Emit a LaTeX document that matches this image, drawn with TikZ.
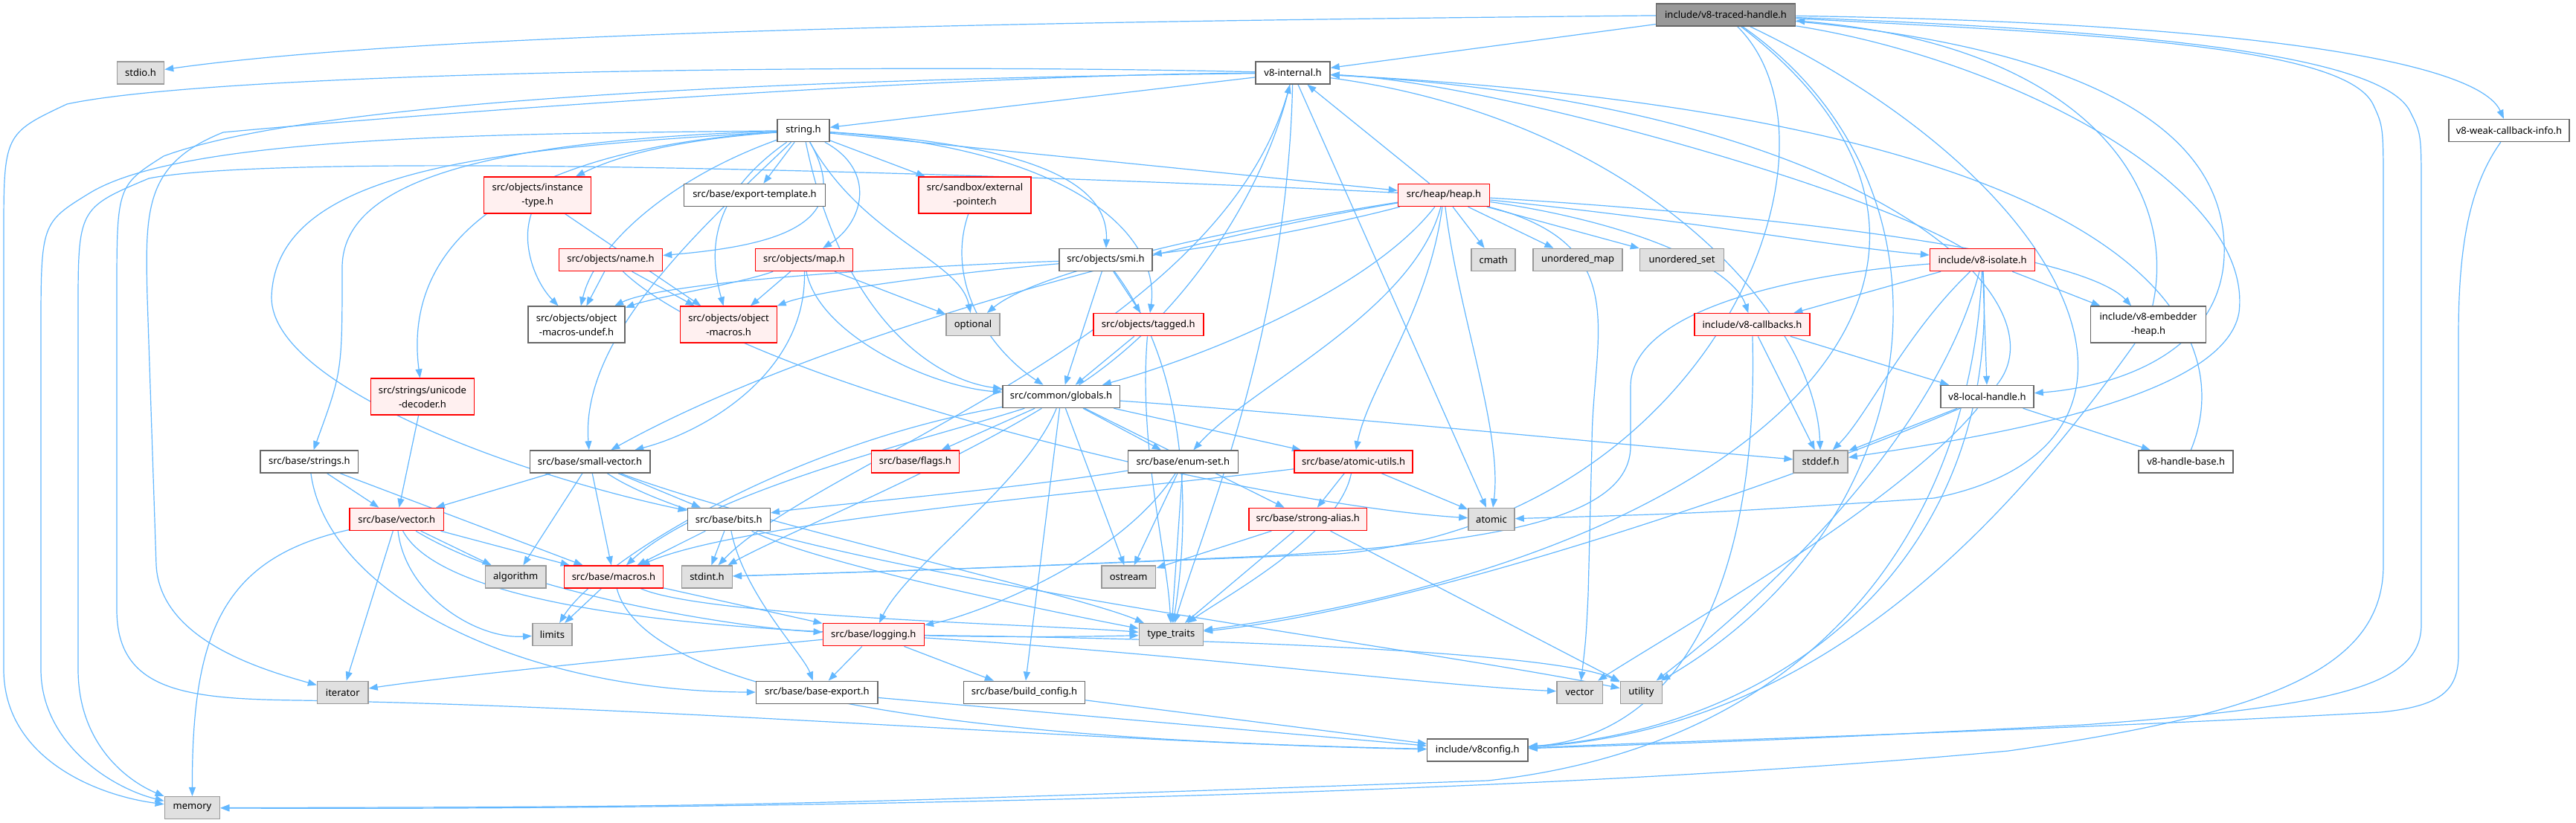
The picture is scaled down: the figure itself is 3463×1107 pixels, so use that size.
\documentclass[tikz,border=0pt]{standalone}
\usepackage{fontspec}
\setmainfont{Noto Sans}
\usetikzlibrary{arrows.meta}
\definecolor{edgec}{HTML}{63B8FF}
\definecolor{redbd}{HTML}{FF0000}
\definecolor{redfill}{HTML}{FFF0F0}
\definecolor{sysfill}{HTML}{E0E0E0}
\definecolor{sysbd}{HTML}{999999}
\definecolor{normbd}{HTML}{666666}
\definecolor{rootfill}{HTML}{999999}
\pgfdeclarelayer{bg}
\pgfsetlayers{bg,main}
\begin{document}
\begin{tikzpicture}[x=1pt,y=-1pt,
 box/.style={draw=normbd, fill=white, line width=1.5pt, inner sep=0pt, minimum height=30pt, font=\fontsize{13}{19}\selectfont, align=center},
 sys/.style={box, draw=sysbd, fill=sysfill},
 trunc/.style={box, draw=redbd, fill=redfill},
 rootn/.style={box, draw=normbd, fill=rootfill},
 two/.style={minimum height=49pt},
 edg/.style={draw=edgec, line width=1.2pt, -{Triangle[length=12pt,width=9pt]}}]
\useasboundingbox (0,0) rectangle (3463,1107);
% nodes
\node[rootn, minimum width=187pt] (traced) at (2320,20) {include/v8-traced-handle.h};
\node[sys, minimum width=63pt] (stdio) at (189,98) {stdio.h};
\node[box, minimum width=100pt] (internal) at (1738,98) {v8-internal.h};
\node[box, minimum width=162pt] (weak) at (3373,175.5) {v8-weak-callback-info.h};
\node[box, minimum width=70pt] (stringh) at (1080,175.5) {string.h};
\node[trunc, two, minimum width=144pt] (insttype) at (722.6,262.5) {src/objects/instance\\-type.h};
\node[box, minimum width=190pt] (exptmpl) at (1014.5,262.5) {src/base/export-template.h};
\node[trunc, two, minimum width=151pt] (extptr) at (1310.5,262.5) {src/sandbox/external\\-pointer.h};
\node[trunc, minimum width=123pt] (heap) at (1941,262.5) {src/heap/heap.h};
\node[trunc, minimum width=139pt] (name) at (821,349.5) {src/objects/name.h};
\node[trunc, minimum width=131pt] (map) at (1081,349.5) {src/objects/map.h};
\node[box, minimum width=125pt] (smi) at (1486.4,349.5) {src/objects/smi.h};
\node[sys, minimum width=59pt] (cmath) at (2007.7,349.5) {cmath};
\node[sys, minimum width=120pt] (umap) at (2121,349.5) {unordered\_map};
\node[sys, minimum width=113pt] (uset) at (2261,349.5) {unordered\_set};
\node[trunc, minimum width=141pt] (isolate) at (2665,349.5) {include/v8-isolate.h};
\node[box, two, minimum width=130pt] (omu) at (775,436.7) {src/objects/object\\-macros-undef.h};
\node[trunc, two, minimum width=130pt] (om) at (979.6,436.7) {src/objects/object\\-macros.h};
\node[sys, minimum width=72pt] (optional) at (1308,436.7) {optional};
\node[trunc, minimum width=148pt] (tagged) at (1543.8,436.7) {src/objects/tagged.h};
\node[trunc, minimum width=155pt] (callbacks) at (2355.5,436.7) {include/v8-callbacks.h};
\node[box, two, minimum width=155pt] (embheap) at (2888,436.7) {include/v8-embedder\\-heap.h};
\node[trunc, two, minimum width=139pt] (unidec) at (567.9,533.7) {src/strings/unicode\\-decoder.h};
\node[box, minimum width=157.5pt] (globals) at (1426.5,533.5) {src/common/globals.h};
\node[box, minimum width=125pt] (localh) at (2671.5,533.5) {v8-local-handle.h};
\node[box, minimum width=131.6pt] (strings) at (415.8,621) {src/base/strings.h};
\node[box, minimum width=161.5pt] (smallvec) at (793,621) {src/base/small-vector.h};
\node[trunc, minimum width=118pt] (flags) at (1230.3,621) {src/base/flags.h};
\node[box, minimum width=148pt] (enumset) at (1590.4,621) {src/base/enum-set.h};
\node[trunc, minimum width=159pt] (atomicu) at (1819.6,621) {src/base/atomic-utils.h};
\node[sys, minimum width=73pt] (stddef) at (2447.6,621) {stddef.h};
\node[box, minimum width=127pt] (hbase) at (2938.7,621) {v8-handle-base.h};
\node[trunc, minimum width=126.4pt] (vectorh) at (533.2,698.5) {src/base/vector.h};
\node[box, minimum width=111pt] (bits) at (979.8,698.5) {src/base/bits.h};
\node[trunc, minimum width=158.6pt] (stralias) at (1758.3,698.5) {src/base/strong-alias.h};
\node[sys, minimum width=62pt] (atomic) at (2005,698.5) {atomic};
\node[sys, minimum width=81.6pt] (algorithm) at (693.2,776) {algorithm};
\node[trunc, minimum width=133pt] (macros) at (825,776) {src/base/macros.h};
\node[sys, minimum width=67.7pt] (stdint) at (950.5,776) {stdint.h};
\node[sys, minimum width=72.7pt] (ostream) at (1517.2,776) {ostream};
\node[sys, minimum width=53.3pt] (limits) at (742.4,853.7) {limits};
\node[trunc, minimum width=136pt] (logging) at (1174.3,853.7) {src/base/logging.h};
\node[sys, minimum width=86pt] (typetraits) at (1574.3,853.7) {type\_traits};
\node[sys, minimum width=68.3pt] (iterator) at (460.8,931.3) {iterator};
\node[box, minimum width=163.6pt] (baseexport) at (1098.3,931.3) {src/base/base-export.h};
\node[box, minimum width=163pt] (buildcfg) at (1377,931.3) {src/base/build\_config.h};
\node[sys, minimum width=61.6pt] (vector) at (2123.6,931.3) {vector};
\node[sys, minimum width=56pt] (utility) at (2206.3,931.3) {utility};
\node[box, minimum width=135.4pt] (v8config) at (1986.3,1009) {include/v8config.h};
\node[sys, minimum width=74.3pt] (memory) at (258.5,1086.7) {memory};
\begin{pgfonlayer}{bg}
\fill[white] (0,0) rectangle (3463,1107);
% traced
\draw[edg] (traced) .. controls (1500,28) and (600,40) .. (stdio);
\draw[edg] (traced) -- (internal);
\draw[edg] (traced) .. controls (3000,30) and (3330,80) .. (weak);
\draw[edg] (traced) .. controls (2800,45) and (3150,60) .. (3190,140) .. controls (3204,170) .. (3204,260) -- (3204,760) .. controls (3204,900) and (3050,960) .. (2700,1010) .. controls (2000,1075) and (900,1090) .. (memory);
\draw[edg] (traced) .. controls (2850,40) and (3200,70) .. (3240,150) .. controls (3255,180) .. (3255,260) -- (3255,840) .. controls (3255,920) and (3150,950) .. (2800,975) .. controls (2400,995) .. (v8config);
\draw[edg] (traced) .. controls (2750,60) and (2985,150) .. (2990,330) .. controls (2995,470) and (2850,520) .. (localh);
\draw[edg] (traced) .. controls (2700,80) and (3030,250) .. (3010,420) .. controls (2990,540) and (2650,590) .. (stddef);
\draw[edg] (traced) .. controls (2650,250) and (2600,700) .. (utility);
\draw[edg] (traced) .. controls (2800,250) and (2950,600) .. (2600,670) .. controls (2300,690) .. (atomic);
\draw[edg] (traced) .. controls (2750,350) and (2400,740) .. (typetraits);
\draw[edg] (traced) .. controls (2500,200) and (2300,700) .. (1800,745) .. controls (1300,765) .. (stdint);
% internal
\draw[edg] (internal) -- (stringh);
\draw[edg] (internal) .. controls (2200,160) and (2440,420) .. (stddef);
\draw[edg] (internal) .. controls (1650,450) and (1100,620) .. (stdint);
\draw[edg] (internal) -- (atomic);
\draw[edg] (internal) .. controls (1300,100) and (600,150) .. (300,178) .. controls (195,220) and (195,280) .. (198,400) -- (210,760) .. controls (215,860) and (350,900) .. (iterator);
\draw[edg] (internal) .. controls (1200,85) and (300,95) .. (90,140) .. controls (5,180) .. (5,320) -- (5,900) .. controls (5,1020) and (130,1070) .. (memory);
\draw[edg] (internal) .. controls (1730,450) and (1620,700) .. (typetraits);
\draw[edg] (internal) .. controls (1200,105) and (450,125) .. (220,210) .. controls (157,250) .. (157,400) -- (157,820) .. controls (157,930) and (250,940) .. (400,942) .. controls (900,950) and (1500,1000) .. (v8config);
% weak
\draw[edg] (weak) .. controls (3320,250) and (3305,330) .. (3305,450) -- (3305,880) .. controls (3305,930) and (3280,950) .. (3200,958) .. controls (2700,985) and (2300,995) .. (v8config);
% string.h
\draw[edg] (stringh) .. controls (950,185) and (850,200) .. (insttype);
\draw[edg] (stringh) -- (exptmpl);
\draw[edg] (stringh) -- (extptr);
\draw[edg] (stringh) -- (heap);
\draw[edg] (stringh) .. controls (1150,300) and (1050,330) .. (name);
\draw[edg] (stringh) .. controls (1180,230) and (1160,300) .. (map);
\draw[edg] (stringh) .. controls (1400,195) and (1490,250) .. (smi);
\draw[edg] (stringh) .. controls (960,260) and (950,330) .. (om);
\draw[edg] (stringh) .. controls (900,240) and (800,330) .. (omu);
\draw[edg] (stringh) .. controls (1160,320) and (1290,350) .. (optional);
\draw[edg] (stringh) .. controls (1450,200) and (1560,320) .. (tagged);
\draw[edg] (stringh) .. controls (1130,420) and (1250,510) .. (globals);
\draw[edg] (stringh) .. controls (700,200) and (540,320) .. (unidec);
\draw[edg] (stringh) .. controls (600,190) and (460,260) .. (460,360) .. controls (460,500) .. (strings);
\draw[edg] (stringh) .. controls (950,300) and (780,450) .. (smallvec);
\draw[edg] (stringh) .. controls (650,200) and (370,230) .. (365,400) .. controls (365,520) and (700,640) .. (bits);
\draw[edg] (stringh) .. controls (700,180) and (250,180) .. (120,260) .. controls (55,300) .. (55,450) -- (55,900) .. controls (55,1000) and (150,1060) .. (memory);
% instance-type, external-pointer
\draw[edg] (insttype) -- (om);
\draw[edg] (insttype) .. controls (700,330) and (720,380) .. (omu);
\draw[edg] (extptr) .. controls (1270,380) and (1330,470) .. (globals);
% heap
\draw[edg] (heap) -- (internal);
\draw[edg] (heap) .. controls (1700,300) and (1400,360) .. (optional);
\draw[edg] (heap) .. controls (1600,320) and (1100,450) .. (smallvec);
\draw[edg] (heap) .. controls (1800,300) and (1650,330) .. (smi);
\draw[edg] (heap) .. controls (1850,380) and (1650,470) .. (globals);
\draw[edg] (heap) .. controls (1900,420) and (1680,520) .. (enumset);
\draw[edg] (heap) .. controls (1920,420) and (1840,520) .. (atomicu);
\draw[edg] (heap) .. controls (1960,420) and (2020,580) .. (atomic);
\draw[edg] (heap) -- (cmath);
\draw[edg] (heap) -- (umap);
\draw[edg] (heap) -- (uset);
\draw[edg] (heap) .. controls (2200,300) and (2330,360) .. (callbacks);
\draw[edg] (heap) .. controls (2400,290) and (2800,340) .. (embheap);
\draw[edg] (heap) .. controls (2300,300) and (2450,330) .. (isolate);
\draw[edg] (heap) .. controls (2200,330) and (2140,450) .. (2140,600) -- (2135,800) .. controls (2132,860) .. (vector);
\draw[edg] (heap) .. controls (1500,240) and (400,200) .. (200,240) .. controls (105,280) .. (105,420) -- (105,900) .. controls (105,1000) and (170,1050) .. (memory);
% isolate
\draw[edg] (isolate) .. controls (2560,450) and (2510,560) .. (stddef);
\draw[edg] (isolate) .. controls (2400,370) and (2192,420) .. (2192,520) -- (2192,600) .. controls (2192,700) and (2000,730) .. (1700,748) .. controls (1300,765) .. (stdint);
\draw[edg] (isolate) .. controls (2650,700) and (2450,1000) .. (2000,1050) .. controls (1000,1085) .. (memory);
\draw[edg] (isolate) .. controls (2600,600) and (2350,820) .. (utility);
\draw[edg] (isolate) -- (callbacks);
\draw[edg] (isolate) -- (embheap);
\draw[edg] (isolate) .. controls (2500,250) and (2000,110) .. (internal);
\draw[edg] (isolate) -- (localh);
\draw[edg] (isolate) .. controls (2690,750) and (2400,980) .. (v8config);
% name
\draw[edg] (name) .. controls (1000,520) and (1700,680) .. (atomic);
\draw[edg] (name) -- (om);
\draw[edg] (name) -- (omu);
% map
\draw[edg] (map) -- (optional);
\draw[edg] (map) .. controls (1100,450) and (1250,520) .. (globals);
\draw[edg] (map) -- (om);
\draw[edg] (map) .. controls (1000,380) and (880,400) .. (omu);
\draw[edg] (map) .. controls (1085,500) and (950,580) .. (smallvec);
% smi
\draw[edg] (smi) .. controls (1600,500) and (1600,700) .. (typetraits);
\draw[edg] (smi) -- (globals);
\draw[edg] (smi) -- (tagged);
\draw[edg] (smi) .. controls (1300,365) and (1100,390) .. (om);
\draw[edg] (smi) .. controls (1300,355) and (900,375) .. (omu);
% tagged
\draw[edg] (tagged) .. controls (1530,600) and (1570,750) .. (typetraits);
\draw[edg] (tagged) -- (globals);
% callbacks
\draw[edg] (callbacks) -- (stddef);
\draw[edg] (callbacks) -- (localh);
\draw[edg] (callbacks) .. controls (2365,800) and (2250,990) .. (v8config);
% embedder heap
\draw[edg] (embheap) .. controls (2930,250) and (2800,60) .. (traced);
\draw[edg] (embheap) .. controls (2700,700) and (2450,980) .. (v8config);
% unicode decoder
\draw[edg] (unidec) -- (vectorh);
% globals
\draw[edg] (globals) .. controls (1800,560) and (2200,600) .. (stddef);
\draw[edg] (globals) .. controls (1250,640) and (1050,720) .. (stdint);
\draw[edg] (globals) .. controls (1050,600) and (800,760) .. (limits);
\draw[edg] (globals) -- (ostream);
\draw[edg] (globals) .. controls (1600,420) and (1700,250) .. (internal);
\draw[edg] (globals) -- (atomicu);
\draw[edg] (globals) -- (buildcfg);
\draw[edg] (globals) -- (enumset);
\draw[edg] (globals) -- (flags);
\draw[edg] (globals) .. controls (1380,650) and (1220,760) .. (logging);
\draw[edg] (globals) .. controls (1250,590) and (950,660) .. (macros);
\draw[edg] (globals) -- (stralias);
% local handle
\draw[edg] (localh) -- (stddef);
\draw[edg] (localh) .. controls (2400,650) and (1900,820) .. (typetraits);
\draw[edg] (localh) .. controls (2550,680) and (2250,850) .. (vector);
\draw[edg] (localh) -- (hbase);
\draw[edg] (localh) .. controls (2780,400) and (2500,140) .. (internal);
% handle base
\draw[edg] (hbase) .. controls (3010,450) and (2900,160) .. (internal);
% strings
\draw[edg] (strings) .. controls (440,800) and (700,930) .. (baseexport);
\draw[edg] (strings) -- (macros);
\draw[edg] (strings) -- (vectorh);
% small vector
\draw[edg] (smallvec) -- (algorithm);
\draw[edg] (smallvec) .. controls (1000,700) and (1450,800) .. (typetraits);
\draw[edg] (smallvec) .. controls (1000,760) and (1850,860) .. (utility);
\draw[edg] (smallvec) -- (bits);
\draw[edg] (smallvec) -- (macros);
\draw[edg] (smallvec) -- (vectorh);
% enum set
\draw[edg] (enumset) -- (ostream);
\draw[edg] (enumset) -- (typetraits);
\draw[edg] (enumset) .. controls (1350,660) and (1100,680) .. (bits);
\draw[edg] (enumset) .. controls (1500,760) and (1300,830) .. (logging);
% atomic utils
\draw[edg] (atomicu) -- (atomic);
\draw[edg] (atomicu) .. controls (1800,720) and (1650,800) .. (typetraits);
\draw[edg] (atomicu) .. controls (1500,660) and (1000,700) .. (macros);
\draw[edg] (atomicu) -- (stralias);
% vector.h
\draw[edg] (vectorh) -- (algorithm);
\draw[edg] (vectorh) -- (iterator);
\draw[edg] (vectorh) .. controls (545,800) and (640,860) .. (limits);
\draw[edg] (vectorh) .. controls (300,750) and (258,850) .. (memory);
\draw[edg] (vectorh) .. controls (620,860) and (1300,860) .. (typetraits);
\draw[edg] (vectorh) .. controls (700,800) and (1000,845) .. (logging);
\draw[edg] (vectorh) -- (macros);
% bits
\draw[edg] (bits) -- (stdint);
\draw[edg] (bits) .. controls (1100,760) and (1450,830) .. (typetraits);
\draw[edg] (bits) .. controls (1000,800) and (1080,880) .. (baseexport);
\draw[edg] (bits) -- (macros);
% strong alias
\draw[edg] (stralias) -- (ostream);
\draw[edg] (stralias) -- (typetraits);
\draw[edg] (stralias) -- (utility);
% macros
\draw[edg] (macros) -- (limits);
\draw[edg] (macros) .. controls (950,830) and (1400,840) .. (typetraits);
\draw[edg] (macros) .. controls (880,980) and (1600,1000) .. (v8config);
\draw[edg] (macros) -- (logging);
% logging
\draw[edg] (logging) .. controls (900,880) and (600,910) .. (iterator);
\draw[edg] (logging) -- (baseexport);
\draw[edg] (logging) -- (buildcfg);
\draw[edg] (logging) .. controls (1600,880) and (1900,920) .. (vector);
\draw[edg] (logging) .. controls (1700,860) and (2100,880) .. (utility);
% export / build config
\draw[edg] (baseexport) -- (v8config);
\draw[edg] (buildcfg) -- (v8config);
\end{pgfonlayer}
\end{tikzpicture}
\end{document}
